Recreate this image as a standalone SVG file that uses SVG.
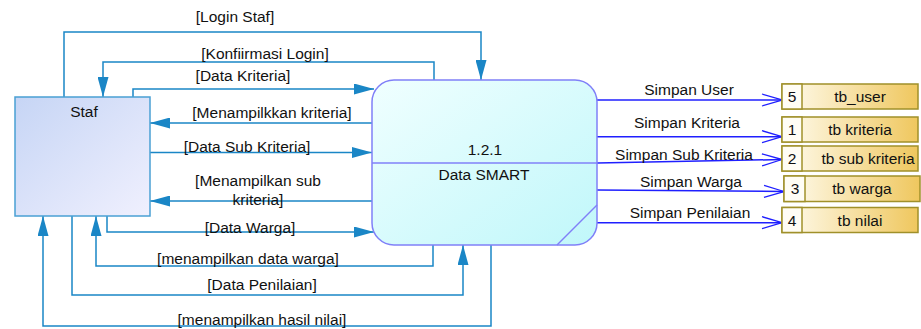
<svg xmlns="http://www.w3.org/2000/svg" width="921" height="329" viewBox="0 0 921 329">
<defs>
<linearGradient id="gStaf" x1="0" y1="0" x2="1" y2="1"><stop offset="0" stop-color="#c6d5f5"/><stop offset="1" stop-color="#f0f0fe"/></linearGradient>
<linearGradient id="gProc" x1="0" y1="0" x2="1" y2="1"><stop offset="0" stop-color="#f0ffff"/><stop offset="1" stop-color="#c0f7fa"/></linearGradient>
<linearGradient id="gStore" x1="0" y1="0" x2="1" y2="0"><stop offset="0" stop-color="#fffcf0"/><stop offset="1" stop-color="#efc75e"/></linearGradient>
<marker id="aF" markerUnits="userSpaceOnUse" markerWidth="20" markerHeight="11" refX="20" refY="5.5" orient="auto"><path d="M0,0 L20,5.5 L0,11 z" fill="#1a86c6"/></marker>
<marker id="aO" markerUnits="userSpaceOnUse" markerWidth="22" markerHeight="14" refX="21" refY="7" orient="auto"><path d="M1,1 L21,7 L1,13" fill="none" stroke="#1f1fff" stroke-width="1.3"/></marker>
</defs>
<style>
text{font-family:"Liberation Sans",Arial,sans-serif;font-size:15.5px;fill:#111;}
.m{text-anchor:middle;}
.c{fill:none;stroke:#1a86c6;stroke-width:1.5;marker-end:url(#aF);}
.s{fill:none;stroke:#1f1fff;stroke-width:1.5;marker-end:url(#aO);}
.store rect{stroke:#a0902a;stroke-width:1.5;}
</style>
<g id="connectors">
<path class="c" d="M64,97 V32 H481 V80"/>
<path class="c" d="M434,80 V62 H103 V97"/>
<path class="c" d="M133,97 V89 H374"/>
<path class="c" d="M372,123 H150"/>
<path class="c" d="M150,152.5 H372"/>
<path class="c" d="M372,201 H150"/>
<path class="c" d="M107,216 V232 H374"/>
<path class="c" d="M433,245 V266 H96 V216"/>
<path class="c" d="M72,216 V295 H463 V245"/>
<path class="c" d="M491,245 V326 H43 V216"/>
<path class="s" d="M597,100 H782"/>
<path class="s" d="M597,136.7 H782"/>
<path class="s" d="M597,163 L782,159.5"/>
<path class="s" d="M597,190 L784,191.5"/>
<path class="s" d="M597,222.7 H782"/>
<text class="m" x="235" y="21.5">[Login Staf]</text>
<text class="m" x="265" y="59">[Konfiirmasi Login]</text>
<text class="m" x="243" y="81">[Data Kriteria]</text>
<text class="m" x="272" y="118">[Menampilkkan kriteria]</text>
<text class="m" x="247" y="152">[Data Sub Kriteria]</text>
<text class="m" x="258" y="186">[Menampilkan sub</text>
<text class="m" x="258" y="205">kriteria]</text>
<text class="m" x="250" y="232.5">[Data Warga]</text>
<text class="m" x="248" y="263.5">[menampilkan data warga]</text>
<text class="m" x="262" y="290">[Data Penilaian]</text>
<text class="m" x="262" y="325">[menampilkan hasil nilai]</text>
<text class="m" x="689" y="94.5">Simpan User</text>
<text class="m" x="687" y="128.3">Simpan Kriteria</text>
<text class="m" x="684" y="160">Simpan Sub Kriteria</text>
<text class="m" x="691" y="186.7">Simpan Warga</text>
<text class="m" x="690" y="217.7">Simpan Penilaian</text>
</g>
<g id="staf">
<rect x="15" y="97" width="135" height="119" fill="url(#gStaf)" stroke="#4aa0d4" stroke-width="1.5"/>
<text class="m" x="84" y="116.5">Staf</text>
</g>
<g id="proc">
<rect x="372" y="80" width="225" height="165" rx="22" ry="22" fill="url(#gProc)" stroke="#8080f8" stroke-width="1.5"/>
<line x1="372" y1="163" x2="597" y2="163" stroke="#8080f8" stroke-width="1.5"/>
<line x1="557" y1="245" x2="597" y2="205" stroke="#8080f8" stroke-width="1.5"/>
<text class="m" x="485" y="155">1.2.1</text>
<text class="m" x="484" y="180">Data SMART</text>
</g>
<g id="store5" class="store">
<rect x="782" y="84" width="136" height="25" fill="url(#gStore)"/>
<rect x="782" y="84" width="20" height="25" fill="#fffdf5"/>
<text class="m" x="792" y="102">5</text>
<text class="m" x="860" y="102">tb_user</text>
</g>
<g id="store1" class="store">
<rect x="782" y="117" width="136" height="25" fill="url(#gStore)"/>
<rect x="782" y="117" width="20" height="25" fill="#fffdf5"/>
<text class="m" x="792" y="135">1</text>
<text class="m" x="860" y="135">tb kriteria</text>
</g>
<g id="store2" class="store">
<rect x="782" y="146" width="136" height="25" fill="url(#gStore)"/>
<rect x="782" y="146" width="20" height="25" fill="#fffdf5"/>
<text class="m" x="792" y="164">2</text>
<text class="m" x="868" y="164">tb sub kriteria</text>
</g>
<g id="store3" class="store">
<rect x="784" y="176" width="136" height="25.5" fill="url(#gStore)"/>
<rect x="784" y="176" width="21" height="25.5" fill="#fffdf5"/>
<text class="m" x="795" y="194">3</text>
<text class="m" x="862" y="194">tb warga</text>
</g>
<g id="store4" class="store">
<rect x="782" y="207.5" width="136" height="25" fill="url(#gStore)"/>
<rect x="782" y="207.5" width="20" height="25" fill="#fffdf5"/>
<text class="m" x="792" y="225.5">4</text>
<text class="m" x="860" y="225.5">tb nilai</text>
</g>
</svg>
